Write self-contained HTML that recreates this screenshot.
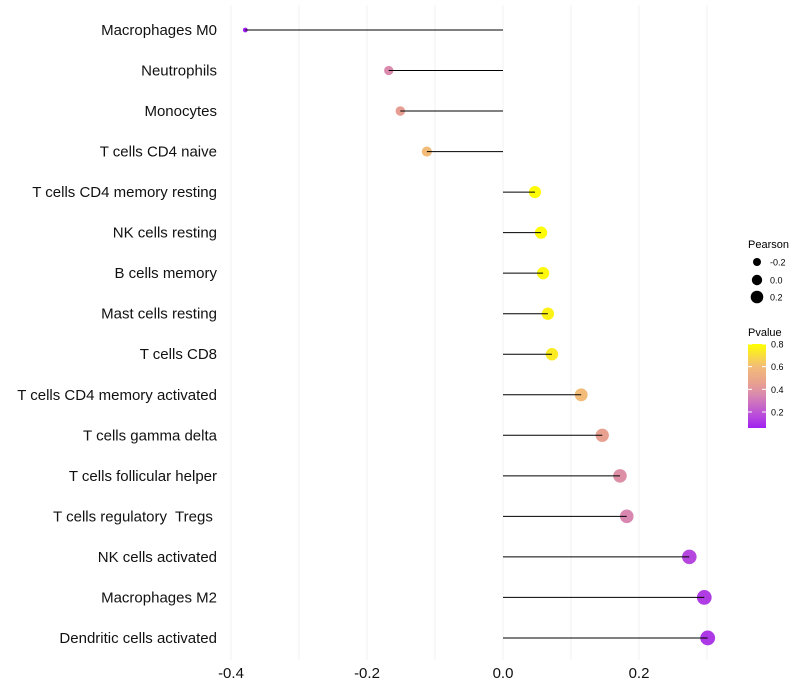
<!DOCTYPE html>
<html><head><meta charset="utf-8">
<style>
html,body{margin:0;padding:0;background:#fff;}
svg{display:block;font-family:"Liberation Sans",Arial,sans-serif;}
</style></head>
<body>
<svg id="chart" width="800" height="700">
<defs>
<linearGradient id="pgrad" x1="0" y1="1" x2="0" y2="0">
<stop offset="0" stop-color="#a020f0"/>
<stop offset="0.12" stop-color="#b444e0"/>
<stop offset="0.39" stop-color="#d888b0"/>
<stop offset="0.53" stop-color="#e8a090"/>
<stop offset="0.73" stop-color="#f2bc78"/>
<stop offset="1" stop-color="#ffff00"/>
</linearGradient>
</defs>
<g id="grid"></g>
<g id="marks"></g>
<g id="ylabels"></g>
<g id="xlabels"></g>
<g>
<text x="748" y="248" font-size="11" fill="#000">Pearson</text>
<circle cx="757" cy="262" r="4" fill="#000"/>
<text x="770" y="265.5" font-size="9">-0.2</text>
<circle cx="757" cy="280" r="5.2" fill="#000"/>
<text x="770" y="283.5" font-size="9">0.0</text>
<circle cx="757" cy="297" r="6.3" fill="#000"/>
<text x="770" y="300.5" font-size="9">0.2</text>
</g>
<g>
<text x="748" y="336" font-size="11">Pvalue</text>
<rect x="748" y="344" width="18" height="84" fill="url(#pgrad)"/>
<g id="cticks"></g>
</g>
</svg>
<script>
const categories=["Macrophages M0","Neutrophils","Monocytes","T cells CD4 naive","T cells CD4 memory resting","NK cells resting","B cells memory","Mast cells resting","T cells CD8","T cells CD4 memory activated","T cells gamma delta","T cells follicular helper","T cells regulatory  Tregs ","NK cells activated","Macrophages M2","Dendritic cells activated"];
const pearson=[-0.379,-0.168,-0.151,-0.112,0.047,0.056,0.059,0.066,0.072,0.115,0.146,0.172,0.182,0.274,0.296,0.301];
const pvalue=[0.06,0.36,0.44,0.6,0.79,0.79,0.78,0.76,0.74,0.6,0.45,0.38,0.35,0.16,0.13,0.12];
const xTicks=[-0.4,-0.2,0.0,0.2];
const xTickLabels=["-0.4","-0.2","0.0","0.2"];
const cTicks=[0.2,0.4,0.6,0.8];

const NS="http://www.w3.org/2000/svg";
function x(v){return 503+v*680;}
function y(i){return 30+i*40.53;}
function rad(v){return Math.sqrt(4+66*(v+0.38))+0.4;}
function cy(p){return 344+(0.8-p)*113.3;}
const stops=[[0.06,[160,32,240]],[0.15,[180,68,224]],[0.35,[216,136,176]],[0.45,[232,160,144]],[0.6,[242,188,120]],[0.8,[255,255,0]]];
function col(p){
 if(p<=stops[0][0])return "rgb(160,32,240)";
 for(let k=1;k<stops.length;k++){if(p<=stops[k][0]){const a=stops[k-1],b=stops[k];const t=(p-a[0])/(b[0]-a[0]);const c=a[1].map((q,j)=>Math.round(q+(b[1][j]-q)*t));return "rgb("+c.join(",")+")";}}
 return "rgb(255,255,0)";
}
function mk(tag,attrs,parent){const e=document.createElementNS(NS,tag);for(const k in attrs)e.setAttribute(k,attrs[k]);parent.appendChild(e);return e;}
const grid=document.getElementById('grid');
for(let v=-0.4;v<=0.31;v+=0.1){
 const l=mk('line',{x1:x(v),x2:x(v),y1:5,y2:660,stroke:'#f0f0f0','stroke-width':1},grid);
 
 
}
const marks=document.getElementById('marks');
const yl=document.getElementById('ylabels');
categories.forEach((c,i)=>{
 const pt=mk('circle',{cx:x(pearson[i]),cy:y(i),r:rad(pearson[i]),fill:col(pvalue[i])},marks);
 
 
 const ln=mk('line',{x1:x(0),x2:x(pearson[i]),y1:y(i),y2:y(i),stroke:'#000','stroke-width':1},marks);
 
 
 const t=mk('text',{x:217,y:y(i)+5,'text-anchor':'end','font-size':15,fill:'#111'},yl);
 t.setAttribute('xml:space','preserve');
 t.style.whiteSpace='pre';
 t.textContent=c;
 
 
});
const xl=document.getElementById('xlabels');
xTicks.forEach((v,i)=>{
 const t=mk('text',{x:x(v),y:678,'text-anchor':'middle','font-size':15,fill:'#111'},xl);
 t.textContent=xTickLabels[i];
 
 
});
const ct=document.getElementById('cticks');
cTicks.forEach(p=>{
 const a=mk('line',{x1:748,x2:752,y1:cy(p),y2:cy(p),stroke:'#fff'},ct);
 
 
 const b=mk('line',{x1:762,x2:766,y1:cy(p),y2:cy(p),stroke:'#fff'},ct);
 
 
 const t=mk('text',{x:771,y:cy(p)+3.5,'font-size':9},ct);
 t.textContent=p.toFixed(1);
 
 
});
</script>
</body></html>
